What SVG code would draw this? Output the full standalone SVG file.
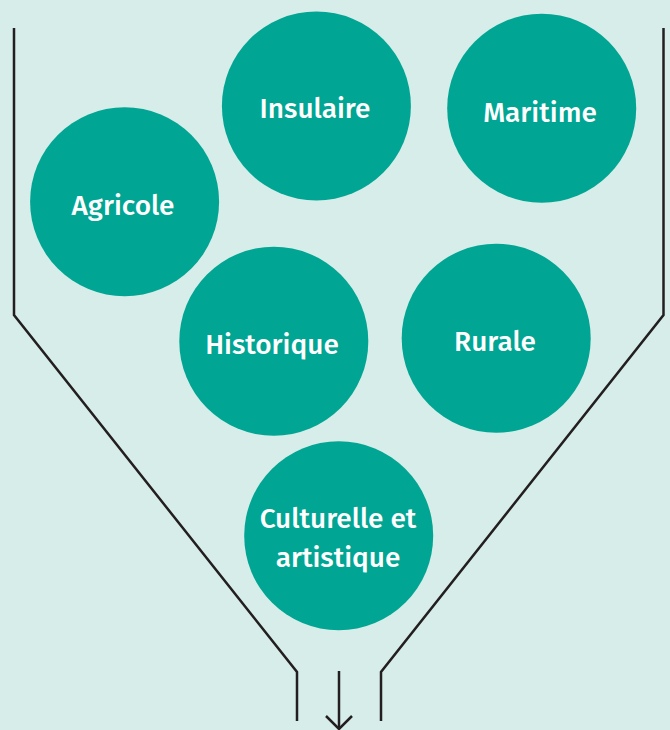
<svg xmlns="http://www.w3.org/2000/svg" width="670" height="730" viewBox="0 0 670 730">
<style>
.c{fill:#00a593}
.t{fill:#ffffff;font-family:"Fira Sans","Open Sans","Noto Sans",sans-serif;font-weight:500;font-size:28px;text-anchor:middle}
.f{fill:none;stroke:#231f20;stroke-width:2.5}
</style>
<rect width="670" height="730" fill="#d7ede9"/>
<g id="connectors">
<polyline class="f" points="14,28 14,315 297,672 297,721"/>
<polyline class="f" points="663.5,28 663.5,315 381,672 381,721"/>
<line class="f" x1="339" y1="671" x2="339" y2="728"/>
<polyline class="f" points="326,716 339,729 352,716" stroke-width="4"/>
</g>
<g id="insulaire"><circle class="c" cx="316.4" cy="106" r="94.5"/><text class="t" x="315" y="118">Insulaire</text></g>
<g id="maritime"><circle class="c" cx="541.7" cy="108.2" r="94.5"/><text class="t" x="540" y="122">Maritime</text></g>
<g id="agricole"><circle class="c" cx="124.6" cy="201.7" r="94.5"/><text class="t" x="123" y="215">Agricole</text></g>
<g id="historique"><circle class="c" cx="273.8" cy="341.2" r="94.5"/><text class="t" x="272" y="354">Historique</text></g>
<g id="rurale"><circle class="c" cx="496.2" cy="338.3" r="94.5"/><text class="t" x="495" y="351">Rurale</text></g>
<g id="culturelle"><circle class="c" cx="338.7" cy="535.8" r="94.5"/><text class="t" x="338" y="528">Culturelle et</text><text class="t" x="338" y="567">artistique</text></g>
</svg>
